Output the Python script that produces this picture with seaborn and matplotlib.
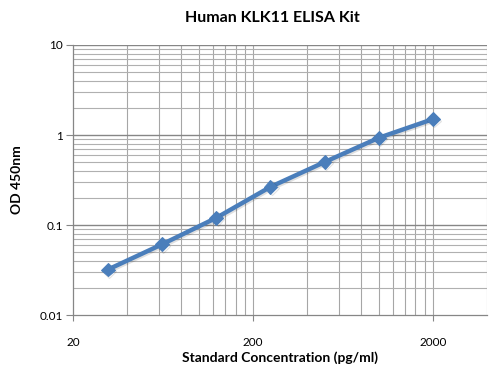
import numpy as np
import pandas as pd
import matplotlib
matplotlib.use("Agg")
import matplotlib.pyplot as plt
import matplotlib.patheffects as pe
from matplotlib.ticker import FixedLocator, NullFormatter
import seaborn as sns

conc = [31.25, 62.5, 125, 250, 500, 1000, 2000]
od = [0.032, 0.061, 0.12, 0.265, 0.50, 0.93, 1.50]
x_ticks = [20, 200, 2000]
y_ticks = [0.01, 0.1, 1, 10]
y_labels = ["0.01", "0.1", "1", "10"]

df = pd.DataFrame({"conc": conc, "od": od})

sns.set_theme(style="white")
plt.rcParams['font.family'] = ['Lato', 'DejaVu Sans']

fig = plt.figure(figsize=(4.98, 3.70), dpi=100)
ax = fig.add_axes([0.1466, 0.1486, 0.8314, 0.7298])

blue = "#4a7ebb"
sns.lineplot(data=df, x="conc", y="od", ax=ax, color=blue, lw=3.2,
             marker="D", markersize=7, markeredgecolor=blue,
             path_effects=[pe.SimpleLineShadow(offset=(1, -1), alpha=0.12, shadow_color="black"),
                           pe.Normal()])

ax.set_xscale("log")
ax.set_yscale("log")
ax.set_xlim(20, 4000)
ax.set_ylim(0.01, 10)

# excel style gridlines: multiples of 20 on x, 1..9 per decade on y
xminor = [20 * 10**d * k for d in range(2) for k in range(2, 10)] + [4000]
yminor = [10.0**d * k for d in range(-2, 1) for k in range(2, 10)]
for v in xminor + [200, 2000]:
    ax.axvline(v, color="#a6a6a6", lw=0.8, zorder=0)
for v in yminor:
    ax.axhline(v, color="#b0b0b0", lw=0.8, zorder=0)
for v in [0.1, 1, 10]:
    ax.axhline(v, color="#868686", lw=1.0, zorder=0)

ax.xaxis.set_major_locator(FixedLocator(x_ticks))
ax.xaxis.set_minor_locator(FixedLocator([]))
ax.set_xticklabels([str(t) for t in x_ticks])
ax.yaxis.set_major_locator(FixedLocator(y_ticks))
ax.yaxis.set_minor_locator(FixedLocator([]))
ax.yaxis.set_minor_formatter(NullFormatter())
ax.set_yticklabels(y_labels)

ax.tick_params(axis="x", which="major", length=4, width=0.8, color="#868686",
               pad=12, labelsize=8.5, labelcolor="black", bottom=True)
ax.tick_params(axis="y", which="major", length=5, width=0.8, color="#868686",
               pad=2, labelsize=8.5, labelcolor="black", left=True)

for s in ["top", "right"]:
    ax.spines[s].set_visible(False)
for s in ["left", "bottom"]:
    ax.spines[s].set_color("#868686")
    ax.spines[s].set_linewidth(0.9)

ax.set_xlabel("Standard Concentration (pg/ml)", fontsize=10, fontweight="bold",
              labelpad=2, color="black")
ax.set_ylabel("OD 450nm", fontsize=10, fontweight="bold", labelpad=12, color="black")
fig.text(0.547, 0.952, "Human KLK11 ELISA Kit", ha="center", va="center",
         fontsize=11.5, fontweight="bold", color="black")

fig.savefig("out.png", dpi=100)
